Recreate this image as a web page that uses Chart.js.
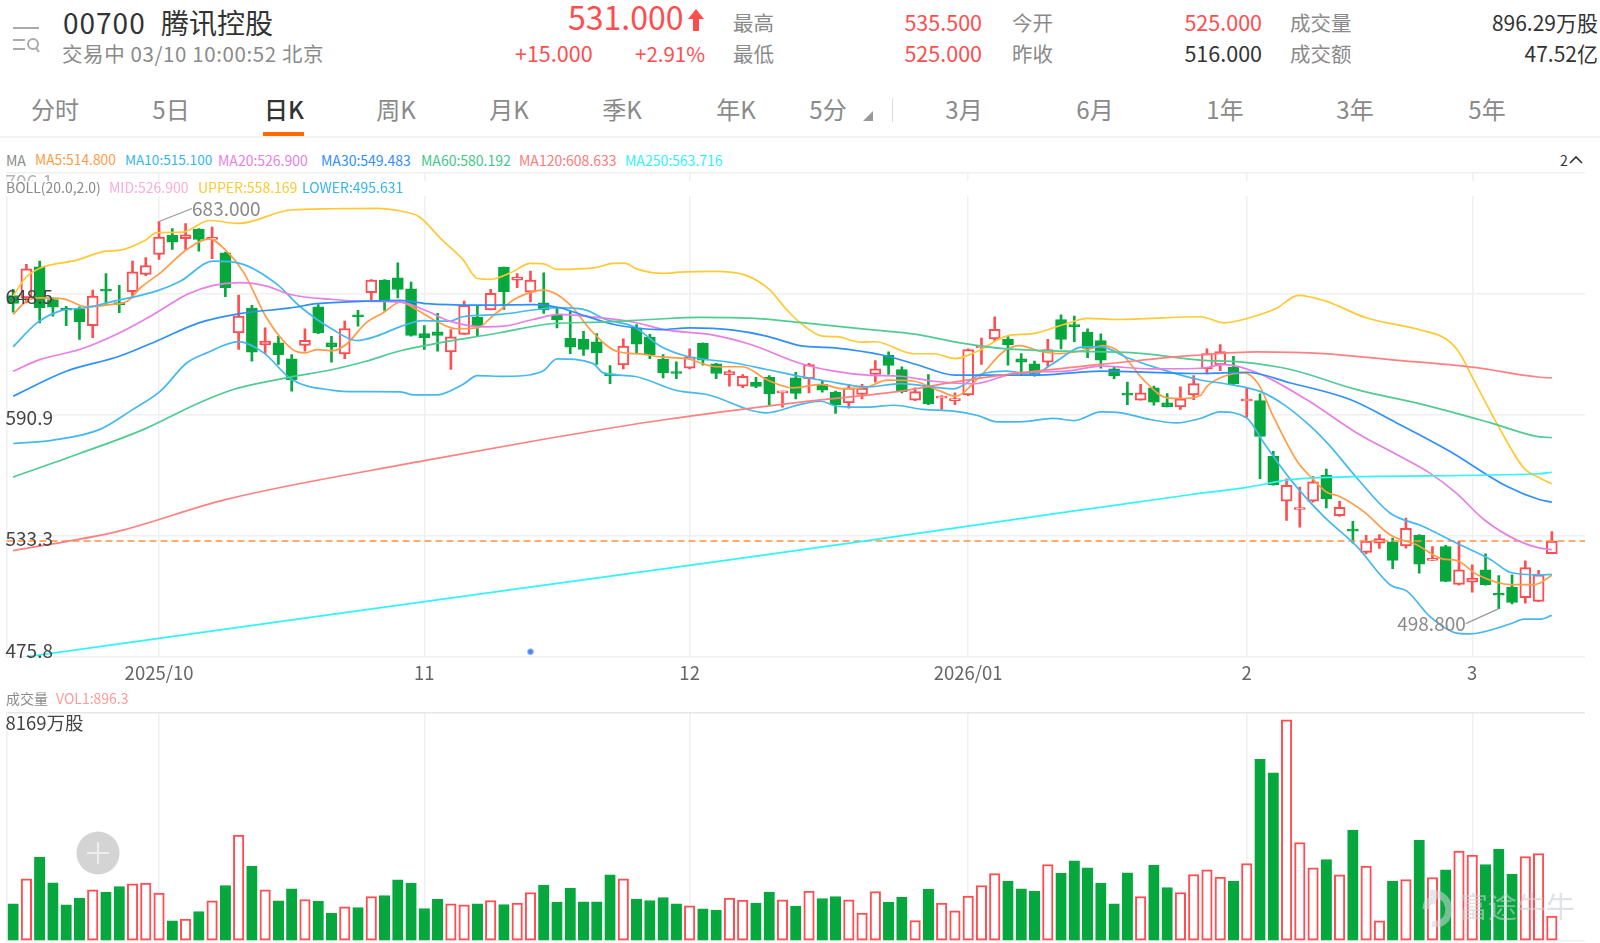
<!DOCTYPE html>
<html lang="zh">
<head>
<meta charset="utf-8">
<title>00700 腾讯控股 日K</title>
<script src="https://cdn.jsdelivr.net/npm/chart.js@4/dist/chart.umd.min.js"></script>
<style>
html, body { margin: 0; padding: 0; background: #fff; }
body { width: 1600px; height: 943px; position: relative; overflow: hidden; font-family: "Noto Sans CJK SC", "Noto Sans", sans-serif; color: #333; }
.t { position: absolute; white-space: nowrap; line-height: 1; transform: translateY(-50%); }
.r { transform: translate(-100%, -50%); }
.c { transform: translate(-50%, -50%); }
.gray { color: #8a8a8a; }
.red { color: #ff4d4f; }
.s13 { font-size: 14px; }
canvas { position: absolute; left: 0; }
#main { top: 160px; }
#vol { top: 712px; }
#bollRow { position: absolute; left: 0; top: 181px; width: 1600px; height: 15px; background: rgba(255,255,255,.93); z-index: 2; }
.over { z-index: 3; }
</style>
</head>
<body>
<svg style="position:absolute;left:12px;top:24px" width="30" height="32" fill="none" stroke="#aaa" stroke-width="2">
  <path d="M1 4h26M1 16h12M1 25h12"/><circle cx="21" cy="20" r="5"/><path d="M24 24l3 4"/>
</svg>
<div class="t" style="left:63px;top:22px;font-size:28px;letter-spacing:1px">00700</div>
<div class="t" style="left:161px;top:22px;font-size:28px">腾讯控股</div>
<div class="t gray" style="left:62px;top:53px;font-size:20.5px;letter-spacing:.6px">交易中 03/10 10:00:52 北京</div>
<div class="t red" style="left:568px;top:16px;font-size:32px">531.000</div>
<svg style="position:absolute;left:687px;top:9px" width="18" height="22" fill="#ff4d4f"><path d="M9 0l8 10h-5v12H6V10H1z"/></svg>
<div class="t red" style="left:515px;top:53px;font-size:21.5px">+15.000</div>
<div class="t red" style="left:635px;top:53px;font-size:20.5px">+2.91%</div>
<div class="t gray" style="left:733px;top:22px;font-size:20.5px">最高</div>
<div class="t gray" style="left:733px;top:53px;font-size:20.5px">最低</div>
<div class="t r red" style="left:982px;top:22px;font-size:21.5px">535.500</div>
<div class="t r red" style="left:982px;top:53px;font-size:21.5px">525.000</div>
<div class="t gray" style="left:1012px;top:22px;font-size:20.5px">今开</div>
<div class="t gray" style="left:1012px;top:53px;font-size:20.5px">昨收</div>
<div class="t r red" style="left:1262px;top:22px;font-size:21.5px">525.000</div>
<div class="t r" style="left:1262px;top:53px;font-size:21.5px">516.000</div>
<div class="t gray" style="left:1290px;top:22px;font-size:20.5px">成交量</div>
<div class="t gray" style="left:1290px;top:53px;font-size:20.5px">成交额</div>
<div class="t r" style="left:1598px;top:22px;font-size:21px">896.29万股</div>
<div class="t r" style="left:1598px;top:53px;font-size:21px">47.52亿</div>

<div class="t c gray" style="left:55px;top:109px;font-size:24px">分时</div>
<div class="t c gray" style="left:171px;top:109px;font-size:24px">5日</div>
<div class="t c" style="left:284px;top:109px;font-size:24px;font-weight:500">日K</div>
<div class="t c gray" style="left:396px;top:109px;font-size:24px">周K</div>
<div class="t c gray" style="left:509px;top:109px;font-size:24px">月K</div>
<div class="t c gray" style="left:622px;top:109px;font-size:24px">季K</div>
<div class="t c gray" style="left:736px;top:109px;font-size:24px">年K</div>
<div class="t c gray" style="left:828px;top:109px;font-size:24px">5分</div>
<svg style="position:absolute;left:863px;top:111px" width="10" height="10" fill="#999"><path d="M10 0v10H0z"/></svg>
<div style="position:absolute;left:892px;top:98px;width:1px;height:24px;background:#ddd"></div>
<div class="t c gray" style="left:964px;top:109px;font-size:24px">3月</div>
<div class="t c gray" style="left:1095px;top:109px;font-size:24px">6月</div>
<div class="t c gray" style="left:1225px;top:109px;font-size:24px">1年</div>
<div class="t c gray" style="left:1355px;top:109px;font-size:24px">3年</div>
<div class="t c gray" style="left:1487px;top:109px;font-size:24px">5年</div>
<div style="position:absolute;left:263px;top:132px;width:41px;height:3.5px;background:#ff6a00"></div>
<div style="position:absolute;left:0;top:136px;width:1600px;height:2px;background:#f2f2f2"></div>

<div class="t s13 gray" style="left:6px;top:160px">MA</div>
<div class="t" style="left:35px;top:160px;font-size:13.8px;color:#ff9c45">MA5:514.800</div>
<div class="t" style="left:125px;top:160px;font-size:13.6px;color:#35b5ee">MA10:515.100</div>
<div class="t s13" style="left:218px;top:160px;color:#e77fe4">MA20:526.900</div>
<div class="t s13" style="left:321px;top:160px;color:#2f8fff">MA30:549.483</div>
<div class="t s13" style="left:421px;top:160px;color:#3fc78a">MA60:580.192</div>
<div class="t s13" style="left:519px;top:160px;color:#ff7a7a">MA120:608.633</div>
<div class="t s13" style="left:625px;top:160px;color:#2ff4f8">MA250:563.716</div>
<div class="t s13" style="left:1560px;top:160px">2</div>
<svg style="position:absolute;left:1569px;top:155px" width="14" height="10" fill="none" stroke="#333" stroke-width="1.6"><path d="M1 8l6-6 6 6"/></svg>

<canvas id="main" width="1600" height="530"></canvas>
<div id="bollRow"></div>
<div class="t s13 gray over" style="left:6px;top:187px">BOLL(20.0,2.0)</div>
<div class="t s13 over" style="left:109px;top:187px;color:#ffadd6">MID:526.900</div>
<div class="t s13 over" style="left:198px;top:187px;color:#ffc933">UPPER:558.169</div>
<div class="t s13 over" style="left:302px;top:187px;color:#35b5ee">LOWER:495.631</div>

<div class="t s13 gray" style="left:6px;top:698px">成交量</div>
<div class="t s13" style="left:56px;top:698px;color:#ff9a9a">VOL1:896.3</div>
<canvas id="vol" width="1600" height="231"></canvas>

<svg class="over" style="position:absolute;left:76px;top:831px" width="44" height="44">
  <circle cx="22" cy="22" r="21.5" fill="#d4d4d4"/><path d="M11 22h22M22 11v22" stroke="#eee" stroke-width="2"/>
</svg>
<svg class="over" style="position:absolute;left:1420px;top:887px;opacity:.55" width="36" height="40" fill="none" stroke="#cfd6da" stroke-width="7">
  <path d="M10 6C28 6 32 22 26 32 22 37 16 38 12 37M6 22C6 14 12 12 16 14"/>
</svg>
<div class="t over" style="left:1459px;top:905px;font-size:29px;color:rgba(200,208,212,.6)">富途牛牛</div>

<script>
// daily candles, oldest first
const open = [
  647.8,646.7,661.5,645.9,641.5,641.2,633.5,650.7,644.3,649.6,
  657.8,667.3,676.4,674.8,679.3,674.5,668.1,630,641.8,624.3,
  625.3,617.7,624,642.4,625.3,620,638.6,649.1,655.1,656.2,
  651,629.7,630.5,621,629.3,637.4,640.9,661.3,655.1,649.4,
  644.3,638.6,627.4,627,625.8,610.2,614.8,632.4,628,617.4,
  611.3,613.2,625,615.3,610.1,604.7,606.6,608.9,601.5,608.6,
  608.2,605.5,601.7,596.7,600.7,610.2,619.3,612.6,598,605,
  599,597.8,600.5,622.9,627.2,626.9,617.7,615.3,616.1,636.4,
  634,630.4,626.4,612.9,601,598,603.9,596.7,594.8,600.5,
  612.9,614.8,613.8,597.6,597.8,571.3,550,546,549.9,562.2,
  543,536.4,525.6,530,530.6,528.7,533.7,521.8,528.4,510.3,
  511.4,517.3,505.9,509.1,504,502.2,525
];
const close = [
  644,660.5,642,642.3,640.8,635.3,647.5,649.9,643.5,659.1,
  662.1,675.6,673.2,676.7,674.5,675,651.5,638,620.8,626.1,
  619.7,607.8,626.5,630,623.4,632.1,637.7,655.1,645.1,650.7,
  628.8,627.7,628.8,628.2,643.1,632.9,648.8,649.6,656.6,655.1,
  640.9,636.2,623.2,622.1,620.5,609.6,623.7,624.7,619.7,611,
  610.7,618.6,617,610.7,611.6,609.4,604.5,601,602.3,601.2,
  615,602.8,595.9,603.9,603.7,612.9,614.5,602,602.1,596.3,
  599.3,598.3,622.1,623.4,631.7,624.3,616.1,609.7,622.1,626.9,
  632.9,622.6,617,609.7,600.4,601.5,597,594.8,598.6,605.9,
  620.2,621.1,605.9,598.1,580.8,557.8,557.5,546.7,559.1,551,
  547,535.7,531,532.2,521.8,537,520,522.4,511.8,517.3,
  513.3,510.2,505.2,501.8,518.3,514.9,531
];
const high = [
  650.7,662.6,664.2,646.7,642.7,642.4,650.4,658.3,652.6,664.2,
  665.8,683,679.6,682,679.6,680.4,668.5,648,643.1,632.4,
  628.4,619.7,632,643.5,628.4,635.6,640.8,655.4,655.4,663.4,
  654.2,633.5,639.3,631.6,645.1,642.8,650.7,661.3,658.2,659.4,
  658.6,641.9,640.4,630.8,629.7,614.5,627.2,634,629.3,619.7,
  616.2,622.4,625.3,615.5,612.3,610.2,608.9,609.7,602.3,611.3,
  615.5,607.5,602.3,605.5,605.5,616.9,621,613.9,603.9,610.2,
  600.2,601.5,622.4,627.5,637.7,628.5,620.2,616.6,626.9,638.6,
  638,632,629.6,613.9,606.6,605.5,604.7,601.2,604.3,609.7,
  622.4,624.5,618.9,603.8,601,573.7,560.6,556.7,561.8,565.2,
  549.9,540.3,533.7,534.1,532.4,541.9,534,528.4,528.9,530.8,
  519.7,524.9,514.5,514.9,521.6,517,535.5
];
const low = [
  639.9,644.3,634.8,638,633.5,626.9,627.7,643.5,639.6,646.7,
  657.3,665,669.7,669.7,668.9,665.3,647.2,622.1,616.6,620.2,
  615,602.3,621.3,629.7,616.1,617.7,633.2,645.6,640.7,646.7,
  628.5,622.1,621.3,612.6,629.3,628.2,640.9,641.2,651.5,644.7,
  639.3,632.4,620.1,619.3,615,605.9,612.9,620.2,617.7,608.6,
  608.2,612.9,614.7,608.2,604.7,603.9,603.9,595.6,594.7,598.6,
  601.5,601.8,591.7,594.2,598.6,606.6,610.2,601.5,597.8,595.9,
  593.6,595.9,600.2,615,625.8,614.7,609.7,609.4,613.9,622.4,
  625.8,618.2,613.2,608.2,595.9,598,595.6,594.8,593.6,598.3,
  610.5,612.1,605.4,590,560.6,557.6,540.8,537.6,549.5,546.7,
  542.7,530,524.9,527.5,517.8,527.6,515.7,521.8,511.6,510,
  506.7,510,498.8,501.1,501.4,502.1,525
];
// volume in 万股
const volume = [
  1331,2227,3003,2084,1295,1534,1833,1749,1952,2048,
  2072,1713,722,782,1057,1439,1988,3791,2681,1833,
  1439,1869,1487,1427,997,1224,1200,1594,1630,2191,
  2072,1164,1498,1331,1295,1331,1451,1307,1355,1737,
  2000,1391,1892,1403,1403,2370,2227,1498,1451,1558,
  1331,1260,1152,1104,1534,1463,1355,1749,1475,1248,
  1785,1522,1594,1475,997,1773,1391,1570,734,1857,
  1355,1081,1606,1988,2418,2143,1869,1785,2740,2430,
  2872,2621,2072,1331,2442,1594,2716,1916,1737,2382,
  2549,2287,2143,2776,6513,6024,7922,3528,2621,2919,
  2370,3970,2681,722,2143,2203,3612,2275,2549,3218,
  3075,2740,3289,2394,3027,3134,896
];

// line readings as [candle position, price]
const ma5 = [[0,638.8],[1,645.1],[2,646.7],[3.8,646.2],[5.5,642.4],[7.3,643.5],[8.6,645.1],[9.6,651.5],[11.1,658.6],[13.1,669.7],[14.8,674.8],[16.1,668.9],[17.4,658.6],[19.1,637.2],[21,622.4],[22,620.5],[22.9,622.1],[24.1,621.6],[25.1,624.5],[26.6,634.8],[27.9,639.6],[29.2,644.6],
  [30.4,641.2],[31.9,635.6],[33.4,632],[35,632.4],[36.2,638.3],[38,646.7],[40,650.4],[41,648.3],[42.2,642],[43.5,631.6],[45.5,621.3],[47.3,620],[48.8,618.6],[50.8,617.7],[53,613.9],[55,613.9],[56.8,607.8],[58.8,603.9],
  [60.9,605.5],[62.6,603.4],[64.4,604.3],[65.9,607.5],[67.9,607],[69.9,602.3],[71,599.9],[72.9,609.4],[74.7,621.3],[75.9,624],[77.4,621.3],[78.9,620.2],[81,622.1],[82.2,624],[83.5,620.5],[85.2,607.8],[87,599.1],[88.2,598.8],[89.5,600.2],
  [90,604.6],[91.3,609.4],[92.8,611],[93.9,605.4],[95,590.3],[96.8,568.9],[97.9,561],[99,554.3],[100,552.2],[101.8,545.1],[103.8,534],[105.8,529.2],[107.8,522.4],[108.8,521.8],[110.4,514.9],[112.9,510.2],[114.6,510.2],[115.1,511],[116,514.8]];
const ma10 = [[0,623.4],[1.8,634.8],[3.5,640.4],[5.5,642],[7.6,645.1],[10.8,649.9],[12.6,654.6],[15.1,664.2],[17.1,663.1],[19.9,653.1],[21.6,642.7],[24.1,631.6],[25.9,626.4],[27.4,628.5],[29.2,633],
  [30.9,635.9],[32.9,635.6],[33.9,637.7],[36.7,638.8],[39.2,640.9],[41,642],[43,641.2],[44.7,636.4],[46.8,632.9],[48.8,623.7],[50.8,618.9],[54.3,615.8],[56.8,612.6],[59.3,609.3],
  [61.4,607],[64.4,604.3],[66.9,605.9],[70.9,603.4],[72.9,610.2],[74.9,611.8],[76.9,610.2],[78.4,615.5],[80.7,623.4],[82,623.4],[84,618.2],[87,611.8],[89.5,607.6],
  [91.8,605.4],[94,602.2],[95.8,595.9],[97.8,585.6],[99.3,576],[101.3,561],[103.8,544.3],[106.3,537.9],[108.8,530],[111.4,522.1],[112.9,516],[115.1,514.9],[116,515.1]];
const ma20 = [[0,611.8],[2,617.3],[5,622.1],[8,630],[10.8,639.6],[13.1,648.3],[15.1,652.6],[17.1,653.9],[19.1,652.3],[20.9,648.3],[24.1,645.9],[26.6,645.1],[29.2,644.7],
  [31.2,640.4],[32.9,635.6],[35.5,632.9],[37,633.2],[39.2,636.4],[41.2,638.8],[43.5,637.7],[46.8,635.1],[49.3,631.3],[52.5,629.3],[55.6,624.5],[59.3,615.6],
  [61.9,611.8],[64.4,609.9],[66.9,609.4],[69.4,607],[72.4,605.8],[75.7,611],[79.4,611.8],[82,614.2],[85.7,612.9],[89.5,613.2],
  [91.3,614.9],[93.8,611],[97.5,598.3],[101.3,582.4],[104.3,572.1],[106.8,563.3],[108.8,553.8],[110.9,541.1],[113.4,531.3],[115.1,527.6],[116,526.9]];
const ma30 = [[0,599.9],[4,611.8],[8,618.9],[11.1,626.9],[14,634.8],[17.1,639.2],[20.9,641.9],[22.9,643.9],[26.6,645.1],[29.2,645.5],
  [31.2,643.9],[35,643.2],[39.2,643.5],[41.2,642],[43.2,638],[45.3,634],[48.8,631.6],[51,632.4],[54.3,631.3],[56.8,628.5],[59.3,624],
  [61.9,622.9],[65.6,619.4],[68.1,615],[71,609.9],[74.4,609.9],[78.2,610.2],[82,611.8],[89.5,610.7],
  [93,611.3],[96.3,606.2],[100.8,598.3],[104.3,587.2],[108.3,573.7],[112.6,557],[115.1,550.6],[116,549.5]];
const ma60 = [[0,561.4],[5,572.6],[9.8,584],[14,596.7],[16.6,603.1],[20.6,608.6],[24.1,612.6],[26.6,616.5],[29.2,621.5],
  [36.7,630.1],[40.7,634.5],[44.2,635.1],[48,636.4],[51.8,637.4],[55.6,637],[59.3,635],
  [64.4,631.7],[68.1,629.3],[71.4,625.3],[74.9,622.4],[79.4,621.3],[84.5,620.5],[89.5,617.1],
  [92.5,616.2],[96.3,612.6],[101.3,603],[106.3,595.9],[111.4,587.2],[115.1,580.5],[116,580.2]];
const ma120 = [[0,526.4],[7.9,535.6],[16,550.7],[31,569.2],[40,579.4],[49.2,588.8],[59.2,597],
  [66.9,602.3],[70.9,606.6],[74.9,610.2],[82,615],[89,619.3],
  [93.8,621],[98.8,620.2],[103.8,617.3],[110,613.7],[115.1,608.9],[116,608.6]];
const ma250 = [[1,475.9],[22,494.3],[50,518.6],[64,530.8],[80,545.3],[88.7,553],[93,556.5],[96.3,560.2],[101.3,561.6],[115,563],[116,563.7]];
const bollUpper = [[0,647.5],[1,656.7],[5,665],[7,668.9],[8,669.3],[10,674.2],[10.8,677.7],[12.8,678],[14.8,683.5],[17,682.1],[20.9,688.5],[24.1,689.1],[27.4,689.3],[29.2,688],
  [30.6,685.3],[32.3,674.5],[33.9,665],[35,655.9],[36,655.5],[37.5,658.6],[39,663.1],[40,662.9],[41,660.2],[44,661.2],[45.2,663.1],[46.1,663.2],[47,660.5],[49,658.3],[50.2,658.9],[52.9,659.3],[55.2,657.5],[57,650.7],[58.3,641.2],[59.3,635],
  [61,628.5],[62.1,628.2],[63.9,625.6],[65,625.8],[67.9,620.1],[69.4,620.1],[71,617.8],[72.7,621.3],[74.9,628.5],[76.9,629.7],[79.2,634],[81,636.9],[83.2,636.4],[89.5,637.7],
  [91.3,634.8],[93.2,637.2],[95.2,641.6],[96.9,647.9],[99,645],[102,637.2],[106.1,631.4],[108,627.2],[109,620.8],[110.1,607.8],[111.9,586.4],[113.9,565.7],[115.1,561],[116,558.2]];
const bollLower = [[0,577.4],[2.9,578.9],[6.5,584],[9,593.5],[11.1,602.3],[13.1,615.8],[14.6,620.5],[17,625.9],[18.9,620.5],[21,607.8],[24.1,602.7],[25.9,602.1],[29.2,602],
  [30.2,600.5],[31.9,600.5],[33.9,605.5],[35,609.7],[37,609.3],[39,610.1],[40,612.1],[41,617.7],[43.7,615.5],[44.5,611],[46.8,609.4],[50,602.6],[52.3,600.7],[56.8,592],[59.3,595.9],
  [60.9,597.5],[62.1,595.1],[64.4,594.7],[66.4,595.6],[68.6,593.6],[70.9,592.8],[72.7,590.7],[74.2,587.7],[75.9,587.7],[78.4,589.3],[80,588.3],[82,592.4],[83.5,592],[85.7,588.8],[87.7,587.2],[89.5,589.3],
  [91,592.4],[93,589.5],[94.3,577.6],[96.3,560.2],[98.8,542.7],[101.3,528.4],[103.8,510.2],[105.1,507],[106.8,495.1],[108.8,487.2],[109.8,486.8],[112.9,491.6],[113.9,493.8],[115.1,493.8],[116,495.6]];

const yTicks = [706.1, 648.5, 590.9, 533.3, 475.8];
const monthPos = [11, 31, 51, 72, 93, 110];
const monthNames = ['2025/10', '11', '12', '2026/01', '2', '3'];
const lastPrice = 531;
const eventDots = [[39, 478.3]];
const maxVolLabel = 8169;

const RED = '#ff4d52';
const GREEN = '#06a83e';
const GRID = '#f0f0f0';
const slots = { min: -0.5, max: 118.5 };
const isUp = i => close[i] >= open[i];
const pts = a => a.map(p => ({ x: p[0], y: p[1] }));
const idx = open.map((_, i) => i);

function line(data, color, order) {
  return { type: 'line', data: pts(data), borderColor: color, borderWidth: 1.7, pointRadius: 0, cubicInterpolationMode: 'monotone', order: order || 1 };
}

// tick labels should not push the plot area around
function noPadding(s) {
  s.paddingTop = s.paddingBottom = s.paddingLeft = s.paddingRight = 0;
}

function monthAxis(height, ticks) {
  return {
    type: 'linear',
    min: slots.min,
    max: slots.max,
    offset: false,
    afterBuildTicks: s => { s.ticks = monthPos.map(v => ({ value: v })); },
    afterFit: s => { s.height = height; noPadding(s); },
    grid: { offset: false, color: GRID, lineWidth: 1.5, drawTicks: false },
    border: { display: false },
    ticks
  };
}

// callouts for the period high and low
const callouts = {
  id: 'callouts',
  afterDatasetsDraw(c) {
    const ctx = c.ctx, x = c.scales.x, y = c.scales.y;
    ctx.save();
    ctx.font = '19px "Noto Sans CJK SC"';
    ctx.textBaseline = 'middle';
    ctx.strokeStyle = '#999';
    ctx.lineWidth = 1.2;
    ctx.fillStyle = '#8a8a8a';
    let px = x.getPixelForValue(11), py = y.getPixelForValue(683);
    ctx.beginPath(); ctx.moveTo(px, py); ctx.lineTo(px + 33, py - 13); ctx.stroke();
    ctx.textAlign = 'left';
    ctx.fillText('683.000', px + 33, py - 13);
    px = x.getPixelForValue(112); py = y.getPixelForValue(498.8);
    ctx.beginPath(); ctx.moveTo(px, py); ctx.lineTo(px - 33, py + 15); ctx.stroke();
    ctx.textAlign = 'right';
    ctx.fillText('498.800', px - 33, py + 15);
    ctx.restore();
  }
};

new Chart(document.getElementById('main'), {
  type: 'bar',
  data: {
    datasets: [
      line(ma250, '#2ff4f8'), line(ma120, '#ff8080'), line(ma60, '#4fcb93'), line(ma30, '#2f8fff'),
      line(ma20, '#e77fe4'), line(bollUpper, '#ffc933'), line(bollLower, '#45b9ee'), line(ma10, '#45b9ee'), line(ma5, '#ff9c45'),
      { type: 'line', data: [{ x: slots.min, y: lastPrice }, { x: slots.max, y: lastPrice }], borderColor: '#ff8f45', borderWidth: 1.6, borderDash: [7, 4], pointRadius: 0, order: 1 },
      { type: 'line', data: pts(eventDots), showLine: false, pointRadius: 3, pointBackgroundColor: '#4c86f0', pointBorderColor: '#a9c4f7', pointBorderWidth: 1, order: 1 },
      {
        data: idx.map(i => ({ x: i, y: [open[i], close[i]] })),
        barThickness: 11, minBarLength: 2, grouped: false, borderSkipped: false, borderWidth: 2,
        backgroundColor: idx.map(i => isUp(i) ? '#fff' : GREEN),
        borderColor: idx.map(i => isUp(i) ? RED : GREEN),
        order: 2
      },
      {
        data: idx.map(i => ({ x: i, y: [low[i], high[i]] })),
        barThickness: 2, grouped: false, borderWidth: 0,
        backgroundColor: idx.map(i => isUp(i) ? RED : GREEN),
        order: 3
      }
    ]
  },
  plugins: [callouts],
  options: {
    responsive: false,
    animation: false,
    layout: { padding: { left: 6.5, right: 15, top: 13 } },
    plugins: { legend: { display: false }, tooltip: { enabled: false } },
    scales: {
      x: monthAxis(33, {
        autoSkip: false, maxRotation: 0, minRotation: 0, padding: 5, color: '#666',
        font: { size: 18.5, family: '"Noto Sans CJK SC"' },
        callback: v => monthNames[monthPos.indexOf(v)]
      }),
      y: {
        min: yTicks[4], max: yTicks[0],
        afterBuildTicks: s => { s.ticks = yTicks.map(v => ({ value: v })); },
        afterFit: s => { s.width = 0; noPadding(s); },
        grid: { color: GRID, lineWidth: 1.5, drawTicks: false },
        border: { display: true, color: GRID, width: 1.5 },
        ticks: {
          mirror: true, padding: -1, z: 1, color: ctx => ctx.index === 0 ? '#b5b5b5' : '#444',
          font: ctx => ({ size: 19, family: '"Noto Sans CJK SC"', lineHeight: ctx.index === 0 ? '18px' : ctx.index === 4 ? '12px' : '6px' }),
          // two-line labels nudge the text off its gridline, as the app does
          callback: (v, i) => i === 4 ? [String(v), ''] : ['', String(v)]
        }
      }
    }
  }
});

new Chart(document.getElementById('vol'), {
  type: 'bar',
  data: {
    datasets: [{
      data: idx.map(i => ({ x: i, y: volume[i] })),
      barThickness: 10.5, grouped: false, borderSkipped: false, borderWidth: 2,
      backgroundColor: idx.map(i => isUp(i) ? '#fff' : GREEN),
      borderColor: idx.map(i => isUp(i) ? RED : GREEN)
    }]
  },
  options: {
    responsive: false,
    animation: false,
    layout: { padding: { left: 6.5, right: 15, top: 1, bottom: 2 } },
    plugins: { legend: { display: false }, tooltip: { enabled: false } },
    scales: {
      x: monthAxis(0, { display: false }),
      y: {
        min: 0, max: maxVolLabel,
        afterBuildTicks: s => { s.ticks = [{ value: maxVolLabel }, { value: 0 }]; },
        afterFit: s => { s.width = 0; noPadding(s); },
        grid: { color: ctx => ctx.index === 0 ? '#e6e6e6' : GRID, lineWidth: 1.5, drawTicks: false },
        border: { display: true, color: GRID, width: 1.5 },
        ticks: {
          mirror: true, padding: -1, z: 1, color: '#444',
          font: { size: 18.5, family: '"Noto Sans CJK SC"', lineHeight: '20px' },
          callback: v => v === maxVolLabel ? ['', v + '万股'] : ''
        }
      }
    }
  }
});
</script>
</body>
</html>
